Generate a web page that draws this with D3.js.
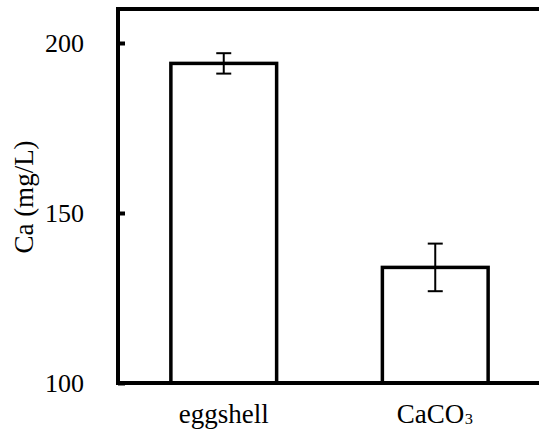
<!DOCTYPE html>
<html>
<head>
<meta charset="utf-8">
<script src="https://cdn.jsdelivr.net/npm/d3@7"></script>
<style>
  body { margin: 0; background: #fff; }
  svg { display: block; font-family: "Liberation Serif", "Times New Roman", serif; }
</style>
</head>
<body>
<div id="chart"></div>
<script>
// data
var categories = ["eggshell", "CaCO\u2083"];
var means = [194, 134];
var errors = [3, 7];
var yTicks = [100, 150, 200];

var width = 539, height = 435;
var margin = {top: 9, right: -2, bottom: 52, left: 118};

var svg = d3.select("#chart").append("svg")
    .attr("width", width)
    .attr("height", height);

var x = d3.scaleBand(categories, [margin.left, width - margin.right])
    .paddingInner(0.5).paddingOuter(0.25);
var y = d3.scaleLinear([100, 210], [height - margin.bottom, margin.top]);

// bars
svg.append("g")
  .selectAll("rect")
  .data(categories)
  .join("rect")
    .attr("x", d => x(d))
    .attr("y", (d, i) => y(means[i]))
    .attr("width", x.bandwidth())
    .attr("height", (d, i) => y(100) - y(means[i]))
    .attr("fill", "#fff")
    .attr("stroke", "#000")
    .attr("stroke-width", 3.5);

// error bars
var eb = svg.append("g").attr("stroke", "#000").attr("stroke-width", 2);
categories.forEach(function(c, i) {
  var cx = x(c) + x.bandwidth() / 2;
  eb.append("line").attr("x1", cx).attr("x2", cx)
    .attr("y1", y(means[i] + errors[i])).attr("y2", y(means[i] - errors[i]));
  [means[i] + errors[i], means[i] - errors[i]].forEach(function(v) {
    eb.append("line").attr("x1", cx - 7.5).attr("x2", cx + 7.5)
      .attr("y1", y(v)).attr("y2", y(v));
  });
});

// frame: top line, left axis, bottom axis
var frame = svg.append("g").attr("stroke", "#000").attr("stroke-width", 4).attr("fill", "none");
frame.append("path")
  .attr("d", "M" + width + "," + y(210) + "H" + margin.left + "V" + y(100) + "H" + width);

// y axis ticks and labels
var yAxis = d3.axisLeft(y).tickValues(yTicks).tickSize(-7).tickPadding(34);
var ya = svg.append("g").attr("transform", "translate(" + margin.left + ",0)").call(yAxis);
ya.select(".domain").remove();
ya.selectAll(".tick line").attr("stroke-width", 4);
ya.selectAll("text").attr("font-size", 26).attr("font-family", "Liberation Serif")
  .attr("fill", "#000").attr("dy", "0.34em");

// x labels (subscript digit nudged up onto the baseline)
var xl = svg.append("g")
  .selectAll("text")
  .data(categories)
  .join("text")
    .attr("x", d => x(d) + x.bandwidth() / 2)
    .attr("y", y(100) + 40)
    .attr("text-anchor", "middle")
    .attr("font-size", 27);
xl.each(function(d) {
  var t = d3.select(this);
  var m = d.match(/^(.*?)([\u2080-\u2089]+)$/);
  if (m) {
    t.append("tspan").text(m[1]);
    t.append("tspan").attr("dy", "-0.14em").text(m[2]);
  } else {
    t.text(d);
  }
});

// y title
svg.append("text")
  .attr("transform", "translate(33,197) rotate(-90)")
  .attr("text-anchor", "middle")
  .attr("font-size", 27)
  .text("Ca (mg/L)");
</script>
</body>
</html>
